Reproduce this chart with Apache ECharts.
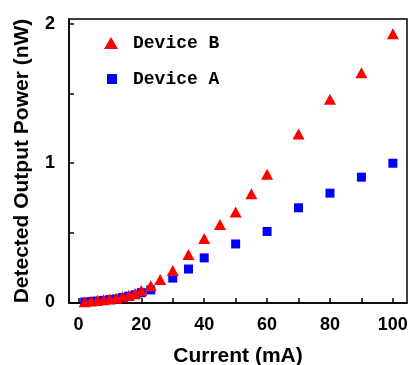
<!DOCTYPE html>
<html>
<head>
<meta charset="utf-8">
<script src="https://cdn.jsdelivr.net/npm/echarts@6/dist/echarts.min.js"></script>
<style>
  html, body { margin: 0; padding: 0; background: #fff; }
  #chart { width: 410px; height: 365px; }
</style>
</head>
<body>
<div id="chart"></div>
<script>
// Device B (red triangles)
var currentB = [2, 4, 6, 8, 10, 12, 14, 16, 18, 20, 23, 26, 30, 35, 40, 45, 50, 55, 60, 70, 80, 90, 100];
var powerB = [0.005, 0.01, 0.015, 0.02, 0.025, 0.03, 0.04, 0.05, 0.065, 0.085, 0.12, 0.165, 0.23, 0.345, 0.46, 0.56, 0.65, 0.78, 0.92, 1.21, 1.46, 1.65, 1.93];

// Device A (blue squares)
var currentA = [2, 4, 6, 8, 10, 12, 14, 16, 18, 20, 23, 30, 35, 40, 50, 60, 70, 80, 90, 100];
var powerA = [0.003, 0.006, 0.01, 0.015, 0.02, 0.025, 0.035, 0.045, 0.055, 0.07, 0.09, 0.175, 0.24, 0.32, 0.42, 0.51, 0.68, 0.785, 0.9, 1.0];

var xTickLabels = [0, 20, 40, 60, 80, 100];
var xTicks = [0, 10, 20, 30, 40, 50, 60, 70, 80, 90, 100];
var yTickLabels = [0, 1, 2];
var yTicks = [0, 0.5, 1, 1.5, 2];

function pairs (xs, ys) {
  return xs.map(function (x, i) { return [x, ys[i]]; });
}

var axisFont = 'Liberation Sans, Arial, sans-serif';
var legendFont = 'Liberation Mono, Courier New, monospace';

var option = {
  animation: false,
  backgroundColor: '#fff',
  grid: {
    left: 69, right: 3, top: 19, bottom: 62,
    outerBoundsMode: 'none',
    show: true, borderColor: '#000', borderWidth: 1.5
  },
  legend: [
    {
      orient: 'vertical', left: 104, top: 34, padding: 0,
      itemWidth: 14, itemHeight: 12,
      data: [{ name: 'Device B', icon: 'triangle' }],
      textStyle: { fontFamily: legendFont, fontWeight: 'bold', fontSize: 18, color: '#000', padding: [0, 0, 0, 10] }
    },
    {
      orient: 'vertical', left: 107, top: 70, padding: 0,
      itemWidth: 10, itemHeight: 10,
      data: [{ name: 'Device A', icon: 'rect' }],
      textStyle: { fontFamily: legendFont, fontWeight: 'bold', fontSize: 18, color: '#000', padding: [0, 0, 0, 11] }
    }
  ],
  xAxis: {
    type: 'value',
    min: -3, max: 104.5,
    name: 'Current (mA)',
    nameLocation: 'middle',
    nameGap: 43,
    nameTextStyle: { fontFamily: axisFont, fontWeight: 'bold', fontSize: 21, color: '#000' },
    splitLine: { show: false },
    axisLine: { show: true, onZero: false, lineStyle: { color: '#000', width: 1.5 } },
    axisTick: { show: true, inside: true, length: 5, customValues: xTicks, lineStyle: { color: '#000', width: 1.5 } },
    axisLabel: { customValues: xTickLabels, margin: 13, fontFamily: axisFont, fontWeight: 'bold', fontSize: 18, color: '#000' }
  },
  yAxis: {
    type: 'value',
    min: -0.004, max: 2.036,
    name: 'Detected Output Power (nW)',
    nameLocation: 'middle',
    nameGap: 36,
    nameTextStyle: { fontFamily: axisFont, fontWeight: 'bold', fontSize: 21, color: '#000' },
    splitLine: { show: false },
    axisLine: { show: true, onZero: false, lineStyle: { color: '#000', width: 1.5 } },
    axisTick: { show: true, inside: true, length: 5, customValues: yTicks, lineStyle: { color: '#000', width: 1.5 } },
    axisLabel: { customValues: yTickLabels, margin: 14, fontFamily: axisFont, fontWeight: 'bold', fontSize: 18, color: '#000' }
  },
  series: [
    {
      name: 'Device A',
      type: 'scatter',
      symbol: 'rect',
      symbolSize: 9,
      itemStyle: { color: '#0000ff', opacity: 1 },
      data: pairs(currentA, powerA)
    },
    {
      name: 'Device B',
      type: 'scatter',
      symbol: 'triangle',
      symbolSize: [12, 11],
      itemStyle: { color: '#ff0000', opacity: 1 },
      data: pairs(currentB, powerB)
    }
  ]
};

var myChart = echarts.init(document.getElementById('chart'));
myChart.setOption(option);
</script>
</body>
</html>
